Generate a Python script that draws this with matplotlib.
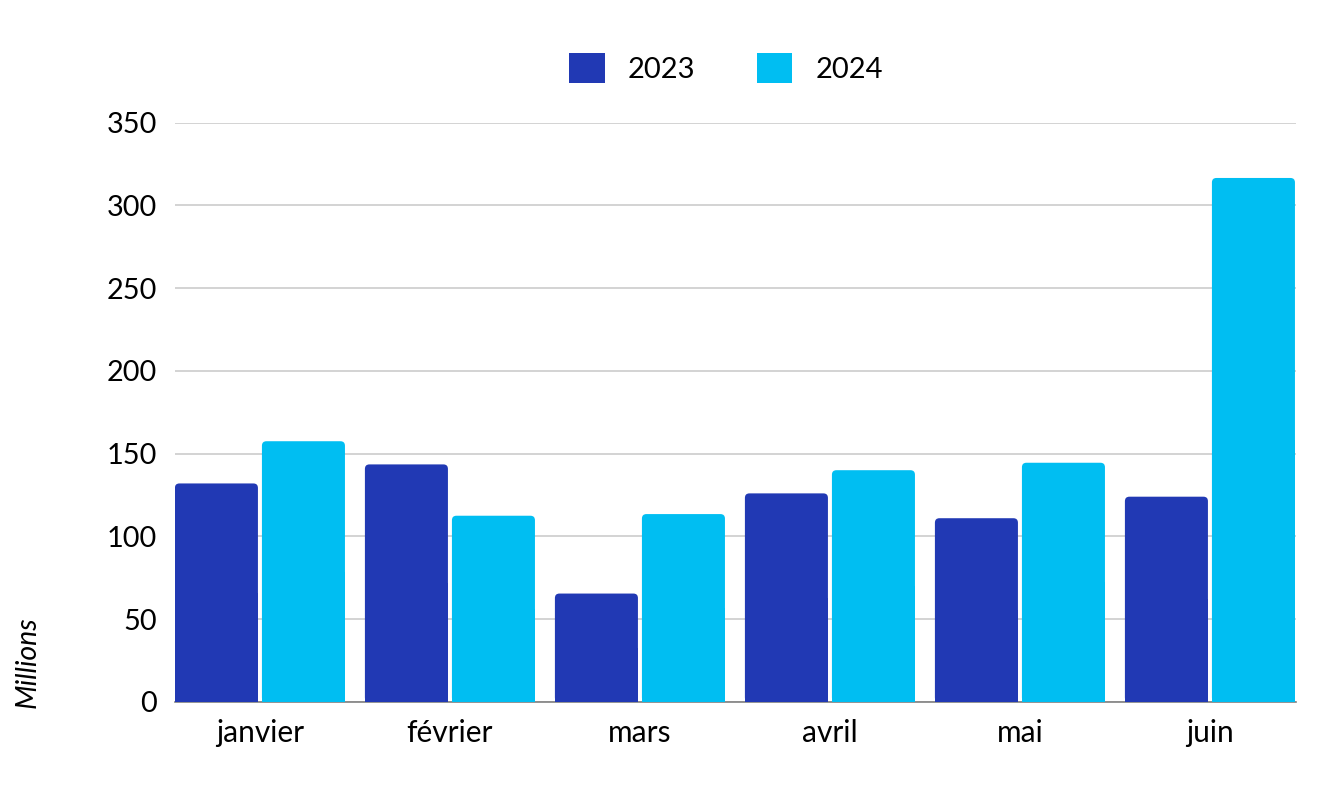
import matplotlib
matplotlib.use("Agg")
import matplotlib.pyplot as plt
from matplotlib.patches import FancyBboxPatch, Rectangle, Patch
import numpy as np

months = ["janvier", "février", "mars", "avril", "mai", "juin"]
series_names = ["2023", "2024"]
values_2023 = [132, 143.5, 65.5, 126, 111, 124]
values_2024 = [157.5, 112.5, 113.5, 140, 144.5, 316.5]
yticks = [0, 50, 100, 150, 200, 250, 300, 350]

col_2023 = "#2139B4"
col_2024 = "#00BEF2"

plt.rcParams['font.family'] = ['Lato', 'DejaVu Sans']

W, H = 1328, 798
fig = plt.figure(figsize=(W / 100, H / 100), dpi=100)
ax = fig.add_axes([175 / W, 1 - 702 / H, (1296 - 175) / W, (702 - 122.5) / H])

x = np.arange(len(months))
bw = 0.437
off = 0.229
bars1 = ax.bar(x - off, values_2023, bw, color=col_2023, zorder=3)
bars2 = ax.bar(x + off, values_2024, bw, color=col_2024, zorder=3)

ax.set_xlim(-0.447, 5.453)
ax.set_ylim(0, 350)

# rounded top corners
rx = 4.5 / 190.0
ry = 4.5 / 1.654
for bars in (bars1, bars2):
    for b in bars:
        bx, by = b.get_x(), b.get_y()
        w, h = b.get_width(), b.get_height()
        c = b.get_facecolor()
        b.set_visible(False)
        p = FancyBboxPatch((bx, by), w, h,
                           boxstyle=f"round,pad=0,rounding_size={rx}",
                           mutation_aspect=ry / rx,
                           facecolor=c, edgecolor='none', zorder=3)
        ax.add_patch(p)
        ax.add_patch(Rectangle((bx, by), w, h / 2, facecolor=c,
                               edgecolor='none', zorder=3))

ax.set_yticks(yticks)
ax.set_xticks(x)
ax.set_xticklabels(months)
ax.yaxis.grid(True, color="#C8C8C8", linewidth=1.1, zorder=0)
ax.set_axisbelow(True)
for s in ["top", "right", "left"]:
    ax.spines[s].set_visible(False)
ax.spines["bottom"].set_color("#808080")
ax.spines["bottom"].set_linewidth(1.2)
ax.spines["bottom"].set_zorder(2)
ax.tick_params(axis='y', length=0, labelsize=20.8, colors='black', pad=13)
ax.tick_params(axis='x', length=0, labelsize=21.5, colors='black', pad=12)

fig.text(28 / W, 1 - 662 / H, "Millions", rotation=90, style='italic',
         fontsize=20.5, ha='center', va='center')

handles = [Patch(facecolor=col_2023, edgecolor='none'),
           Patch(facecolor=col_2024, edgecolor='none')]
fig.legend(handles, series_names, loc='center',
           bbox_to_anchor=(726 / W, 1 - 68 / H), ncol=2, frameon=False,
           fontsize=21, handlelength=1.22, handleheight=1.25,
           handletextpad=0.8, columnspacing=2.1)

fig.savefig("out.png", dpi=100)
